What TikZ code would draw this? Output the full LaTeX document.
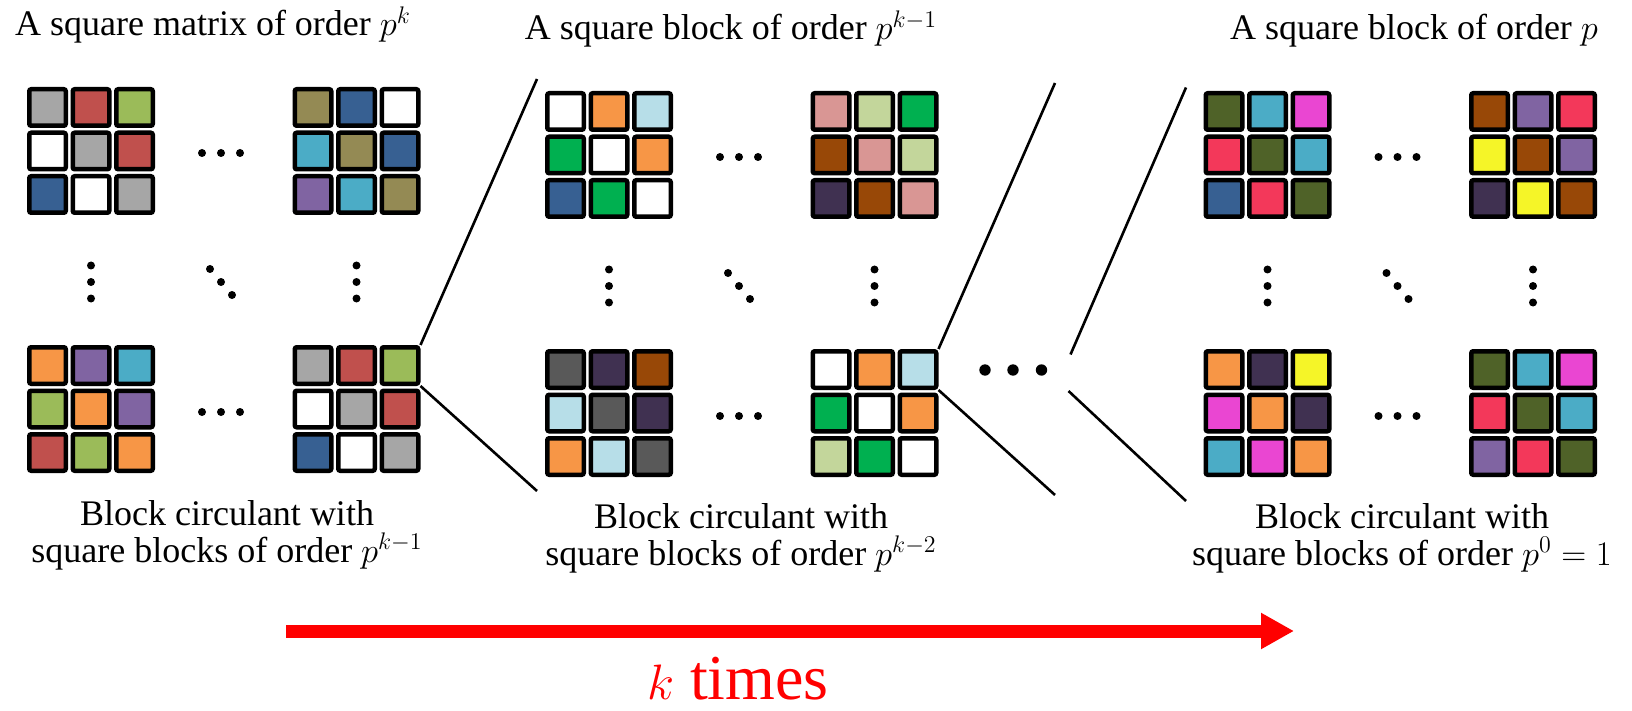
\documentclass[tikz,border=0pt]{standalone}
\usepackage{fontspec}
\setmainfont{Liberation Serif}
\usepackage{tikz}
\usetikzlibrary{arrows.meta}

\definecolor{cgray}{HTML}{A6A6A6}
\definecolor{cred}{HTML}{C0504D}
\definecolor{cgreen}{HTML}{9BBB59}
\definecolor{cblue}{HTML}{376092}
\definecolor{colive}{HTML}{948A54}
\definecolor{caqua}{HTML}{4BACC6}
\definecolor{cpurple}{HTML}{8064A2}
\definecolor{corange}{HTML}{F79646}
\definecolor{clblue}{HTML}{B7DEE8}
\definecolor{cdgreen}{HTML}{00B050}
\definecolor{cpink}{HTML}{D99694}
\definecolor{clgreen}{HTML}{C3D69B}
\definecolor{cbrown}{HTML}{984807}
\definecolor{cdpurple}{HTML}{403151}
\definecolor{cdgray}{HTML}{595959}
\definecolor{cdolive}{HTML}{4F6228}
\definecolor{cmagenta}{HTML}{EA46D2}
\definecolor{crose}{HTML}{F3385A}
\definecolor{cyellow}{HTML}{F5F528}

\tikzset{
	cell/.style = {
		draw=black,
		line width=2.25pt,
		rounded corners=1pt,
		minimum size=18.25pt,
		inner sep=0pt
	},
	zoomline/.style = {
		line width=1.3pt,
		black
	},
	caption/.style = {
		font=\fontsize{18}{18.5}\selectfont,
		align=center,
		inner sep=0pt
	},
	ktext/.style = {
		red,
		font=\fontsize{32}{32}\selectfont,
		inner sep=0pt
	},
	karrow/.style = {
		red,
		line width=6.5pt,
		-{Triangle[length=16.5pt, width=17pt]}
	}
}

% one 3x3 block, #2,#3 = top left corner
\newcommand{\blockgrid}[4]{
	\foreach \c [count=\i from 0] in {#4} {
		\pgfmathtruncatemacro{\rw}{div(\i,3)}
		\pgfmathtruncatemacro{\cl}{mod(\i,3)}
		\node[cell, fill=\c] (#1-\rw\cl) at ({#2+20.5+43.5*\cl},{#3+20.5+43.5*\rw}) {};
	}
}

% four blocks with the dots between them
\newcommand{\panel}[7]{
	\blockgrid{#1tl}{#2+27}{#3+87}{#4}
	\blockgrid{#1tr}{#2+292.5}{#3+87}{#5}
	\blockgrid{#1bl}{#2+27}{#3+345}{#6}
	\blockgrid{#1br}{#2+292.5}{#3+345}{#7}
	\foreach \x in {202,221,240} {
		\fill (#2+\x,#3+153) circle (2pt);
		\fill (#2+\x,#3+412) circle (2pt);
	}
	\foreach \y in {265.5,282,298.5} {
		\fill (#2+91,#3+\y) circle (2pt);
		\fill (#2+356.5,#3+\y) circle (2pt);
	}
	\fill (#2+210,#3+269) circle (2pt);
	\fill (#2+221,#3+282) circle (2pt);
	\fill (#2+232,#3+295) circle (2pt);
}

\begin{document}
\begin{tikzpicture}[x=0.5pt, y=-0.5pt]
\useasboundingbox (0,0) rectangle (1632,711);

\panel{pa}{0}{0}
	{cgray,cred,cgreen,white,cgray,cred,cblue,white,cgray}
	{colive,cblue,white,caqua,colive,cblue,cpurple,caqua,colive}
	{corange,cpurple,caqua,cgreen,corange,cpurple,cred,cgreen,corange}
	{cgray,cred,cgreen,white,cgray,cred,cblue,white,cgray}
\panel{pb}{518}{4}
	{white,corange,clblue,cdgreen,white,corange,cblue,cdgreen,white}
	{cpink,clgreen,cdgreen,cbrown,cpink,clgreen,cdpurple,cbrown,cpink}
	{cdgray,cdpurple,cbrown,clblue,cdgray,cdpurple,corange,clblue,cdgray}
	{white,corange,clblue,cdgreen,white,corange,clgreen,cdgreen,white}
\panel{pc}{1176.5}{4}
	{cdolive,caqua,cmagenta,crose,cdolive,caqua,cblue,crose,cdolive}
	{cbrown,cpurple,crose,cyellow,cbrown,cpurple,cdpurple,cyellow,cbrown}
	{corange,cdpurple,cyellow,cmagenta,corange,cdpurple,caqua,cmagenta,corange}
	{cdolive,caqua,cmagenta,crose,cdolive,caqua,cpurple,crose,cdolive}

\node[caption, anchor=base] (ta) at (213,36) {A square matrix of order $p^k$};
\node[caption, anchor=base] (tb) at (731,40) {A square block of order $p^{k-1}$};
\node[caption, anchor=base] (tc) at (1414,40) {A square block of order $p$};

\node[caption, anchor=north] (ba) at (227,500) {Block circulant with\\square blocks of order $p^{k-1}$};
\node[caption, anchor=north] (bb) at (741,503) {Block circulant with\\square blocks of order $p^{k-2}$};
\node[caption, anchor=north] (bc) at (1402,503) {Block circulant with\\square blocks of order $p^0=1$};

\coordinate (pa-up) at (537,79);
\coordinate (pa-dn) at (537,491);
\draw[zoomline] (pabr-02.north east) -- (pa-up);
\draw[zoomline] (pabr-02.south east) -- (pa-dn);
\coordinate (pb-up) at (1055,83);
\coordinate (pb-dn) at (1055,495);
\draw[zoomline] (pbbr-02.north east) -- (pb-up);
\draw[zoomline] (pbbr-02.south east) -- (pb-dn);
\coordinate (pc-s1) at (1070.5,354.5);
\coordinate (pc-e1) at (1186,87.5);
\coordinate (pc-s2) at (1068.5,391);
\coordinate (pc-e2) at (1186,501);
\draw[zoomline] (pc-s1) -- (pc-e1);
\draw[zoomline] (pc-s2) -- (pc-e2);

\fill (985,370) circle (2.85pt);
\fill (1013,370) circle (2.85pt);
\fill (1041.5,370) circle (2.85pt);

\coordinate (ka) at (286,631);
\coordinate (kb) at (1294,631);
\draw[karrow] (ka) -- (kb);
\node[ktext, anchor=base] (kt) at (738,699) {$k$ times};
\end{tikzpicture}
\end{document}
